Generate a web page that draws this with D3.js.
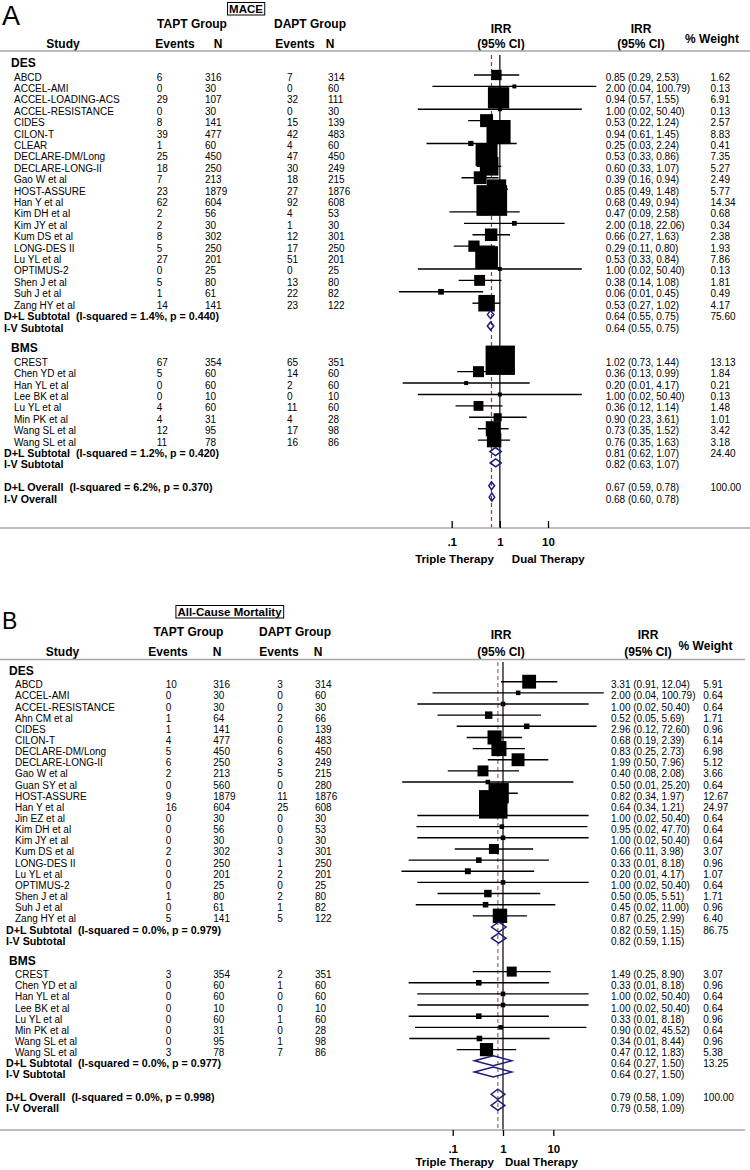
<!DOCTYPE html>
<html><head><meta charset="utf-8">
<script src="https://cdn.jsdelivr.net/npm/d3@7"></script>
<style>
body{margin:0;background:#fff;}
svg text{font-family:"Liberation Sans",Arial,Helvetica,sans-serif;white-space:pre;fill:#000;}
</style></head><body>
<svg id="chart" width="750" height="1170"></svg>
<script>
// ===== Panel A: MACE =====
// [study, TAPT events, TAPT N, DAPT events, DAPT N, IRR, lower, upper, %weight]
const maceDES = [
 ["ABCD",6,316,7,314,0.85,0.29,2.53,1.62],
 ["ACCEL-AMI",0,30,0,60,2.00,0.0397,100.79,0.13],
 ["ACCEL-LOADING-ACS",29,107,32,111,0.94,0.57,1.55,6.91],
 ["ACCEL-RESISTANCE",0,30,0,30,1.00,0.0198,50.40,0.13],
 ["CIDES",8,141,15,139,0.53,0.22,1.24,2.57],
 ["CILON-T",39,477,42,483,0.94,0.61,1.45,8.83],
 ["CLEAR",1,60,4,60,0.25,0.03,2.24,0.41],
 ["DECLARE-DM/Long",25,450,47,450,0.53,0.33,0.86,7.35],
 ["DECLARE-LONG-II",18,250,30,249,0.60,0.33,1.07,5.27],
 ["Gao W et al",7,213,18,215,0.39,0.16,0.94,2.49],
 ["HOST-ASSURE",23,1879,27,1876,0.85,0.49,1.48,5.77],
 ["Han Y et al",62,604,92,608,0.68,0.49,0.94,14.34],
 ["Kim DH et al",2,56,4,53,0.47,0.09,2.58,0.68],
 ["Kim JY et al",2,30,1,30,2.00,0.18,22.06,0.34],
 ["Kum DS et al",8,302,12,301,0.66,0.27,1.63,2.38],
 ["LONG-DES II",5,250,17,250,0.29,0.11,0.80,1.93],
 ["Lu YL et al",27,201,51,201,0.53,0.33,0.84,7.86],
 ["OPTIMUS-2",0,25,0,25,1.00,0.0198,50.40,0.13],
 ["Shen J et al",5,80,13,80,0.38,0.14,1.08,1.81],
 ["Suh J et al",1,61,22,82,0.06,0.008,0.45,0.49],
 ["Zang HY et al",14,141,23,122,0.53,0.27,1.02,4.17]
];
const maceDESSummary = [
 ["D+L Subtotal  (I-squared = 1.4%, p = 0.440)",0.64,0.55,0.75,75.60],
 ["I-V Subtotal",0.64,0.55,0.75,null]
];
const maceBMS = [
 ["CREST",67,354,65,351,1.02,0.73,1.44,13.13],
 ["Chen YD et al",5,60,14,60,0.36,0.13,0.99,1.84],
 ["Han YL et al",0,60,2,60,0.20,0.0096,4.17,0.21],
 ["Lee BK et al",0,10,0,10,1.00,0.0198,50.40,0.13],
 ["Lu YL et al",4,60,11,60,0.36,0.12,1.14,1.48],
 ["Min PK et al",4,31,4,28,0.90,0.23,3.61,1.01],
 ["Wang SL et al",12,95,17,98,0.73,0.35,1.52,3.42],
 ["Wang SL et al",11,78,16,86,0.76,0.35,1.63,3.18]
];
const maceBMSSummary = [
 ["D+L Subtotal  (I-squared = 1.2%, p = 0.420)",0.81,0.62,1.07,24.40],
 ["I-V Subtotal",0.82,0.63,1.07,null]
];
const maceOverall = [
 ["D+L Overall  (I-squared = 6.2%, p = 0.370)",0.67,0.59,0.78,100.00],
 ["I-V Overall",0.68,0.60,0.78,null]
];

// ===== Panel B: All-Cause Mortality =====
const acmDES = [
 ["ABCD",10,316,3,314,3.31,0.91,12.04,5.91],
 ["ACCEL-AMI",0,30,0,60,2.00,0.0397,100.79,0.64],
 ["ACCEL-RESISTANCE",0,30,0,30,1.00,0.0198,50.40,0.64],
 ["Ahn CM et al",1,64,2,66,0.52,0.05,5.69,1.71],
 ["CIDES",1,141,0,139,2.96,0.12,72.60,0.96],
 ["CILON-T",4,477,6,483,0.68,0.19,2.39,6.14],
 ["DECLARE-DM/Long",5,450,6,450,0.83,0.25,2.73,6.98],
 ["DECLARE-LONG-II",6,250,3,249,1.99,0.50,7.96,5.12],
 ["Gao W et al",2,213,5,215,0.40,0.08,2.08,3.66],
 ["Guan SY et al",0,560,0,280,0.50,0.0099,25.20,0.64],
 ["HOST-ASSURE",9,1879,11,1876,0.82,0.34,1.97,12.67],
 ["Han Y et al",16,604,25,608,0.64,0.34,1.21,24.97],
 ["Jin EZ et al",0,30,0,30,1.00,0.0198,50.40,0.64],
 ["Kim DH et al",0,56,0,53,0.95,0.019,47.70,0.64],
 ["Kim JY et al",0,30,0,30,1.00,0.0198,50.40,0.64],
 ["Kum DS et al",2,302,3,301,0.66,0.11,3.98,3.07],
 ["LONG-DES II",0,250,1,250,0.33,0.0133,8.18,0.96],
 ["Lu YL et al",0,201,2,201,0.20,0.0096,4.17,1.07],
 ["OPTIMUS-2",0,25,0,25,1.00,0.0198,50.40,0.64],
 ["Shen J et al",1,80,2,80,0.50,0.05,5.51,1.71],
 ["Suh J et al",0,61,1,82,0.45,0.0184,11.00,0.96],
 ["Zang HY et al",5,141,5,122,0.87,0.25,2.99,6.40]
];
const acmDESSummary = [
 ["D+L Subtotal  (I-squared = 0.0%, p = 0.979)",0.82,0.59,1.15,86.75],
 ["I-V Subtotal",0.82,0.59,1.15,null]
];
const acmBMS = [
 ["CREST",3,354,2,351,1.49,0.25,8.90,3.07],
 ["Chen YD et al",0,60,1,60,0.33,0.0133,8.18,0.96],
 ["Han YL et al",0,60,0,60,1.00,0.0198,50.40,0.64],
 ["Lee BK et al",0,10,0,10,1.00,0.0198,50.40,0.64],
 ["Lu YL et al",0,60,1,60,0.33,0.0133,8.18,0.96],
 ["Min PK et al",0,31,0,28,0.90,0.0178,45.52,0.64],
 ["Wang SL et al",0,95,1,98,0.34,0.0137,8.44,0.96],
 ["Wang SL et al",3,78,7,86,0.47,0.12,1.83,5.38]
];
const acmBMSSummary = [
 ["D+L Subtotal  (I-squared = 0.0%, p = 0.977)",0.64,0.27,1.50,13.25],
 ["I-V Subtotal",0.64,0.27,1.50,null]
];
const acmOverall = [
 ["D+L Overall  (I-squared = 0.0%, p = 0.998)",0.79,0.58,1.09,100.00],
 ["I-V Overall",0.79,0.58,1.09,null]
];

const groupLabels = ["DES","BMS"];
const xTickValues = [0.1, 1, 10];
const xTickLabels = [".1", "1", "10"];
const sideLabels = ["Triple Therapy", "Dual Therapy"];

// ===== drawing =====
const svg = d3.select("#chart");
const FONT = '"Liberation Sans",Arial,Helvetica,sans-serif';
const HS = 12; // header font size

function txt(g, x, y, s, opt = {}) {
  return g.append("text").attr("x", x).attr("y", y).text(s)
    .attr("font-size", opt.size || 10)
    .attr("font-weight", opt.bold ? "bold" : "normal")
    .attr("text-anchor", opt.anchor || "start");
}

function drawPanel(c, groups, overall) {
  const g = svg.append("g");
  const x = d3.scaleLog().domain([0.1, 10]).range(c.xRange);
  const y = d3.scaleLinear().domain([0, 1]).range([c.y0, c.y0 + c.step]);

  // build rows
  const rows = [];
  let i = -1;
  groups.forEach((grp, gi) => {
    rows.push({kind: "head", label: groupLabels[gi], i: i++});
    grp.studies.forEach(s => rows.push({kind: "study", d: s, i: i++}));
    grp.summary.forEach(s => rows.push({kind: "sum", d: s, i: i++}));
    i++;
  });
  overall.forEach(s => rows.push({kind: "sum", d: s, i: i++}));

  // letter + title
  txt(g, c.letter.x, c.letter.y, c.letter.t, {size: c.letter.size});
  const tt = txt(g, c.title.cx, c.title.y, c.title.t, {size: 11.5, bold: true, anchor: "middle"});
  const bb = tt.node().getBBox();
  g.append("rect").attr("x", bb.x - 1.5).attr("y", bb.y - 0.5).attr("width", bb.width + 3).attr("height", bb.height + 0.5)
    .attr("fill", "none").attr("stroke", "#000").attr("stroke-width", 1);

  // headers
  const H = c.head;
  txt(g, H.taptX, H.groupY, "TAPT Group", {size: HS, bold: true, anchor: "middle"});
  txt(g, H.daptX, H.groupY, "DAPT Group", {size: HS, bold: true, anchor: "middle"});
  txt(g, H.studyX, H.colY, "Study", {size: HS, bold: true, anchor: "middle"});
  txt(g, H.teX, H.colY, "Events", {size: HS, bold: true, anchor: "middle"});
  txt(g, H.tnX, H.colY, "N", {size: HS, bold: true, anchor: "middle"});
  txt(g, H.deX, H.colY, "Events", {size: HS, bold: true, anchor: "middle"});
  txt(g, H.dnX, H.colY, "N", {size: HS, bold: true, anchor: "middle"});
  txt(g, H.plotX, H.irrY, "IRR", {size: HS, bold: true, anchor: "middle"});
  txt(g, H.plotX, H.colY, "(95% CI)", {size: HS, bold: true, anchor: "middle"});
  txt(g, H.irrX, H.irrY, "IRR", {size: HS, bold: true, anchor: "middle"});
  txt(g, H.irrX, H.colY, "(95% CI)", {size: HS, bold: true, anchor: "middle"});
  txt(g, H.wX, H.wY, "% Weight", {size: HS, bold: true, anchor: "middle"});
  g.append("line").attr("x1", 0).attr("x2", c.lineX2).attr("y1", H.lineY).attr("y2", H.lineY)
    .attr("stroke", "#a8a8a8").attr("stroke-width", 1.6);

  // reference lines
  g.append("line").attr("x1", x(1)).attr("x2", x(1)).attr("y1", c.vTop).attr("y2", c.axisY)
    .attr("stroke", "#000").attr("stroke-width", 1.2);
  g.append("line").attr("x1", x(overall[0][1])).attr("x2", x(overall[0][1])).attr("y1", c.vTop).attr("y2", c.axisY)
    .attr("stroke", c.dashColor).attr("stroke-width", 1.2).attr("stroke-dasharray", "4,3");

  const C = c.cols;
  rows.forEach(r => {
    const yy = y(r.i);
    if (r.kind === "head") {
      txt(g, C.groupX, yy + c.headOff, r.label, {size: 12, bold: true});
    } else if (r.kind === "study") {
      const [name, te, tn, de, dn, irr, lo, hi, w] = r.d;
      txt(g, C.study, yy + c.textOff, name);
      txt(g, C.te, yy + c.textOff, String(te));
      txt(g, C.tn, yy + c.textOff, String(tn));
      txt(g, C.de, yy + c.textOff, String(de));
      txt(g, C.dn, yy + c.textOff, String(dn));
      txt(g, C.irr, yy + c.textOff, `${irr.toFixed(2)} (${lo.toFixed(2)}, ${hi.toFixed(2)})`);
      txt(g, C.w, yy + c.textOff, w.toFixed(2));
      g.append("line").attr("x1", x(lo)).attr("x2", x(hi)).attr("y1", yy).attr("y2", yy)
        .attr("stroke", "#000").attr("stroke-width", 1.4);
      const s = Math.max(c.minSq, c.sqK * Math.sqrt(w));
      g.append("rect").attr("x", x(irr) - s / 2).attr("y", yy - s / 2).attr("width", s).attr("height", s)
        .attr("fill", "#000");
    } else {
      const [label, irr, lo, hi, w] = r.d;
      txt(g, C.label, yy + c.textOff, label, {size: 10.7, bold: true});
      txt(g, C.irr, yy + c.textOff, `${irr.toFixed(2)} (${lo.toFixed(2)}, ${hi.toFixed(2)})`);
      if (w !== null) txt(g, C.w, yy + c.textOff, w.toFixed(2));
      const h = c.diaH / 2;
      g.append("path")
        .attr("d", `M${x(lo)},${yy}L${x(irr)},${yy - h}L${x(hi)},${yy}L${x(irr)},${yy + h}Z`)
        .attr("fill", "none").attr("stroke", "#1c1c7c").attr("stroke-width", 1.5);
    }
  });

  // axis
  g.append("line").attr("x1", 0).attr("x2", c.lineX2).attr("y1", c.axisY).attr("y2", c.axisY)
    .attr("stroke", "#a8a8a8").attr("stroke-width", 1.6);
  const ax = g.append("g").attr("transform", `translate(0,${c.axisY})`)
    .call(d3.axisBottom(x).tickValues(xTickValues).tickFormat((d, k) => xTickLabels[k])
      .tickSizeInner(c.tickSize).tickSizeOuter(0).tickPadding(c.tickPad));
  ax.select(".domain").remove();
  ax.selectAll(".tick line").attr("stroke", "#000").attr("stroke-width", 1.3);
  ax.selectAll(".tick text").attr("font-family", FONT).attr("font-size", 11.5).attr("font-weight", "bold").attr("fill", "#000");
  txt(g, x(1) + c.sideOff[0], c.sideY, sideLabels[0], {size: 11.5, bold: true, anchor: "end"});
  txt(g, x(1) + c.sideOff[1], c.sideY, sideLabels[1], {size: 11.5, bold: true, anchor: "start"});
}

drawPanel({
  letter: {t: "A", x: 2, y: 25, size: 27},
  title: {t: "MACE", cx: 246, y: 13},
  head: {taptX: 192, daptX: 310, groupY: 28, studyX: 63, teX: 175, tnX: 218, deX: 295, dnX: 330,
         colY: 47.5, irrY: 33, plotX: 501, irrX: 641, wX: 712, wY: 43, lineY: 51},
  lineX2: 750,
  cols: {study: 14, te: 156.7, tn: 205, de: 287, dn: 328, irr: 605.7, w: 710.5, label: 4, groupX: 11},
  xRange: [451.7, 548],
  y0: 75, step: 11.41, textOff: 5.5, headOff: 3.5,
  vTop: 55, axisY: 528, dashColor: "#a83232",
  sqK: 8.1, minSq: 4, diaH: 8,
  tickSize: -7, tickPad: 10, sideOff: [-6, 12], sideY: 563
}, [{studies: maceDES, summary: maceDESSummary}, {studies: maceBMS, summary: maceBMSSummary}], maceOverall);

drawPanel({
  letter: {t: "B", x: 2, y: 629, size: 23},
  title: {t: "All-Cause Mortality", cx: 229.5, y: 616},
  head: {taptX: 188.5, daptX: 295, groupY: 636, studyX: 62.5, teX: 168, tnX: 217, deX: 279, dnX: 318,
         colY: 655.5, irrY: 639, plotX: 501, irrX: 648, wX: 705.5, wY: 650, lineY: 659.5},
  lineX2: 745,
  cols: {study: 15, te: 165.7, tn: 213.3, de: 277.3, dn: 315, irr: 611, w: 703.3, label: 6, groupX: 9},
  xRange: [452.7, 553.3],
  y0: 681.7, step: 11.15, textOff: 6.5, headOff: 4.5,
  vTop: 662, axisY: 1130, dashColor: "#a06262",
  sqK: 5.7, minSq: 4, diaH: 10,
  tickSize: 6, tickPad: 9, sideOff: [-9, 2], sideY: 1166
}, [{studies: acmDES, summary: acmDESSummary}, {studies: acmBMS, summary: acmBMSSummary}], acmOverall);
</script>
</body></html>
